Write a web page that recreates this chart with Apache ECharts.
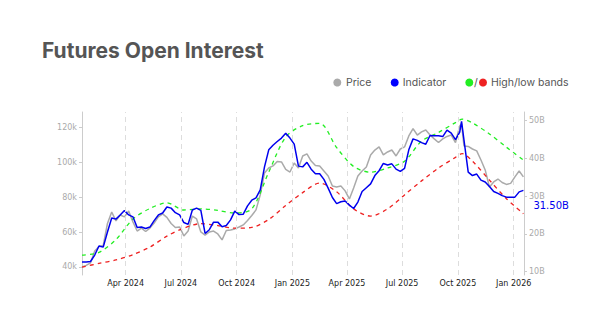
<!DOCTYPE html>
<html><head><meta charset="utf-8">
<script src="https://cdn.jsdelivr.net/npm/echarts@6/dist/echarts.min.js"></script>
<style>html,body{margin:0;padding:0;background:#fff}#c{width:615px;height:332px}</style>
</head><body><div id="c"></div>
<script>
// weekly dates (plus one intra-week point at the Oct 2025 spike)
const dates = ['2024-01-20','2024-01-27','2024-02-03','2024-02-10','2024-02-17','2024-02-24','2024-03-02','2024-03-09','2024-03-16','2024-03-23',
'2024-03-30','2024-04-06','2024-04-13','2024-04-20','2024-04-27','2024-05-04','2024-05-11','2024-05-18','2024-05-25','2024-06-01',
'2024-06-08','2024-06-15','2024-06-22','2024-06-29','2024-07-06','2024-07-13','2024-07-20','2024-07-27','2024-08-03','2024-08-10',
'2024-08-17','2024-08-24','2024-08-31','2024-09-07','2024-09-14','2024-09-21','2024-09-28','2024-10-05','2024-10-12','2024-10-19',
'2024-10-26','2024-11-02','2024-11-09','2024-11-16','2024-11-23','2024-11-30','2024-12-07','2024-12-14','2024-12-21','2024-12-28',
'2025-01-04','2025-01-11','2025-01-18','2025-01-25','2025-02-01','2025-02-08','2025-02-15','2025-02-22','2025-03-01','2025-03-08',
'2025-03-15','2025-03-22','2025-03-29','2025-04-05','2025-04-12','2025-04-19','2025-04-26','2025-05-03','2025-05-10','2025-05-17',
'2025-05-24','2025-05-31','2025-06-07','2025-06-14','2025-06-21','2025-06-28','2025-07-05','2025-07-12','2025-07-19','2025-07-26',
'2025-08-02','2025-08-09','2025-08-16','2025-08-23','2025-08-30','2025-09-06','2025-09-13','2025-09-20','2025-09-27','2025-10-04',
'2025-10-07',
'2025-10-11','2025-10-18','2025-10-25','2025-11-01','2025-11-08','2025-11-15','2025-11-22','2025-11-29','2025-12-06','2025-12-13',
'2025-12-20','2025-12-27','2026-01-03','2026-01-10','2026-01-17'];

// Price, thousands of USD (left axis)
const price = [40.0,40.9,42.3,49.2,51.7,52.3,64.9,71.5,66.4,69.8,
68.7,72.1,65.8,60.6,62.3,60.3,62.3,65.2,68.7,70.4,
68.4,64.9,62.6,62.9,57.8,60.6,69.2,67.5,60.1,58.3,
60.1,60.6,58.9,55.5,60.9,61.2,61.8,62.9,64.1,66.6,
69.5,72.7,81.3,93.9,96.7,97.9,100.5,100.2,95.9,94.4,
99.6,96.7,103.6,104.8,100.7,98.2,97.9,95.0,92.1,86.4,
85.8,86.4,83.6,79.0,85.3,92.1,95.0,97.3,104.2,107.0,
108.8,104.2,105.9,107.0,103.6,107.6,108.8,115.1,119.3,115.6,
117.4,118.5,115.6,113.4,111.3,113.4,114.8,115.6,111.3,120.8,
122.1,
109.3,109.1,107.6,106.5,101.3,95.6,85.8,88.7,90.4,88.4,
87.3,87.9,91.6,95.0,91.6];

// Indicator, billions (right axis)
const indicator = [12.56,12.56,12.7,14.4,16.8,16.5,20.5,24.2,23.9,25.0,
26.2,25.0,24.5,21.7,21.8,21.4,21.8,23.5,25.0,25.5,
27.1,26.8,25.6,25.0,23.0,22.5,26.3,26.8,26.2,20.1,
21.1,23.1,23.1,21.9,22.2,23.7,26.0,25.1,25.2,27.4,
28.9,29.5,31.6,37.7,42.2,43.4,44.4,45.3,46.6,45.3,
43.7,37.9,37.7,38.9,37.1,35.9,35.9,34.4,32.1,29.6,
28.0,28.5,28.7,27.6,26.7,28.4,31.2,32.2,33.2,35.4,
36.7,38.6,38.2,38.5,37.1,36.5,37.3,42.2,45.1,44.7,
44.1,43.7,46.0,45.9,45.9,45.7,47.4,46.6,44.9,46.9,
49.7,
44.8,36.3,35.4,35.8,34.2,33.7,32.5,31.2,30.7,30.1,
29.7,29.7,29.7,31.1,31.5];

// High / low bands, billions
const bandDates = ['2024-01-20','2024-02-17','2024-03-16','2024-04-13','2024-05-11','2024-06-08','2024-07-06','2024-08-03','2024-08-31','2024-09-28',
'2024-10-26','2024-11-23','2024-12-21','2025-01-18','2025-02-15','2025-03-15','2025-04-12','2025-05-10','2025-06-07','2025-07-05',
'2025-08-02','2025-08-30','2025-09-27','2025-10-08','2025-10-25','2025-11-22','2025-12-20','2026-01-17'];
const highBand = [14.4,15.1,18.5,23.9,26.7,28.2,26.3,26.6,26.2,25.5,
26.6,36.3,45.6,48.6,49.2,42.8,37.8,36.3,37.4,39.2,
44.5,46.8,49.4,50.3,49.3,46.4,42.9,39.5];
const lowBand = [11.2,12.2,13.1,14.5,16.5,19.4,21.5,22.7,22.2,21.5,
21.7,23.8,27.5,30.9,33.4,31.1,26.6,24.7,26.6,30.3,
34.0,37.4,40.2,41.2,39.2,34.2,29.3,25.3];

const xTicks = ['2024-04-01','2024-07-01','2024-10-01','2025-01-01','2025-04-01','2025-07-01','2025-10-01','2026-01-01'];
const leftTicks = [40,60,80,100,120];
const rightTicks = [10,20,30,40,50];

const MONTHS = ['Jan','Feb','Mar','Apr','May','Jun','Jul','Aug','Sep','Oct','Nov','Dec'];
const ts = s => { const p = s.split('-').map(Number); return new Date(p[0], p[1]-1, p[2]).getTime(); };

const chart = echarts.init(document.getElementById('c'), null, {renderer:'svg'});
const BLUE = '#0000ee', GRAY = '#aaaaaa', GREEN = '#22ee22', RED = '#ee2222';
const FONT = 'DejaVu Sans';

chart.setOption({
  animation:false,
  backgroundColor:'#ffffff',
  title:{ text:'Futures Open Interest', left:37, top:35,
    textStyle:{ fontFamily:'Inter', fontWeight:700, fontSize:21, color:'#555555' } },
  grid:{ left:82, right:91, top:112, bottom:57, containLabel:false },
  xAxis:{ type:'value', min:ts('2024-01-20'), max:ts('2026-01-18'),
    axisLine:{show:false},
    axisTick:{show:false},
    axisLabel:{ customValues: xTicks.map(ts), color:'#222', fontSize:8, fontFamily:FONT, margin:4,
      formatter: v => { const d = new Date(v); return MONTHS[d.getMonth()] + ' ' + d.getFullYear(); } },
    splitLine:{show:false} },
  yAxis:[
    { type:'value', position:'left', min:35.4, max:128.8,
      axisLine:{show:true, lineStyle:{color:'#cccccc'}},
      axisTick:{show:true, length:3, lineStyle:{color:'#cccccc'}, customValues:leftTicks},
      axisLabel:{ customValues:leftTicks, color:'#aaaaaa', fontSize:8, fontFamily:FONT, margin:5, formatter: v => v + 'k' },
      splitLine:{show:false} },
    { type:'value', position:'right', min:9.13, max:52.2,
      axisLine:{show:true, lineStyle:{color:'#cccccc'}},
      axisTick:{show:true, length:3, lineStyle:{color:'#cccccc'}, customValues:rightTicks},
      axisLabel:{ customValues:rightTicks, color:'#aaaaaa', fontSize:8, fontFamily:FONT, margin:5, formatter: v => v + 'B' },
      splitLine:{show:false} }
  ],
  series:[
    { name:'Price', type:'line', yAxisIndex:0, showSymbol:false, z:1,
      data: dates.map((d,i)=>[ts(d), price[i]]),
      lineStyle:{color:GRAY, width:1.5}, itemStyle:{color:GRAY},
      markLine:{ silent:true, symbol:'none', label:{show:false},
        lineStyle:{color:'#dddddd', type:[5,4], width:1},
        data: xTicks.map(d=>({xAxis: ts(d)})) } },
    { name:'High', type:'line', yAxisIndex:1, showSymbol:false, smooth:0.3, z:2,
      data: bandDates.map((d,i)=>[ts(d), highBand[i]]),
      lineStyle:{color:GREEN, width:1.3, type:[4,4]} },
    { name:'Low', type:'line', yAxisIndex:1, showSymbol:false, smooth:0.3, z:2,
      data: bandDates.map((d,i)=>[ts(d), lowBand[i]]),
      lineStyle:{color:RED, width:1.3, type:[4,4]} },
    { name:'Indicator', type:'line', yAxisIndex:1, showSymbol:false, z:3,
      data: dates.map((d,i)=>[ts(d), indicator[i]]),
      lineStyle:{color:BLUE, width:1.5}, itemStyle:{color:BLUE},
      endLabel:{ show:true, formatter: p => p.value[1].toFixed(2) + 'B', color:BLUE,
        fontSize:10, fontFamily:FONT, offset:[2,15] } }
  ],
  graphic:[
    { type:'circle', shape:{cx:337.3, cy:82.5, r:4}, style:{fill:GRAY} },
    { type:'text', x:346, y:82.5, style:{text:'Price', fill:'#555', fontSize:10.5, fontFamily:'Inter', verticalAlign:'middle'} },
    { type:'circle', shape:{cx:394.7, cy:82.5, r:4}, style:{fill:'#0000ff'} },
    { type:'text', x:402.7, y:82.5, style:{text:'Indicator', fill:'#555', fontSize:10.5, fontFamily:'Inter', verticalAlign:'middle'} },
    { type:'circle', shape:{cx:469.3, cy:82.5, r:4}, style:{fill:GREEN} },
    { type:'text', x:474, y:82.5, style:{text:'/', fill:'#555', fontSize:10.5, fontFamily:'Inter', verticalAlign:'middle'} },
    { type:'circle', shape:{cx:483, cy:82.5, r:4}, style:{fill:RED} },
    { type:'text', x:491, y:82.5, style:{text:'High/low bands', fill:'#555', fontSize:10.5, fontFamily:'Inter', verticalAlign:'middle'} }
  ]
});
</script></body></html>
